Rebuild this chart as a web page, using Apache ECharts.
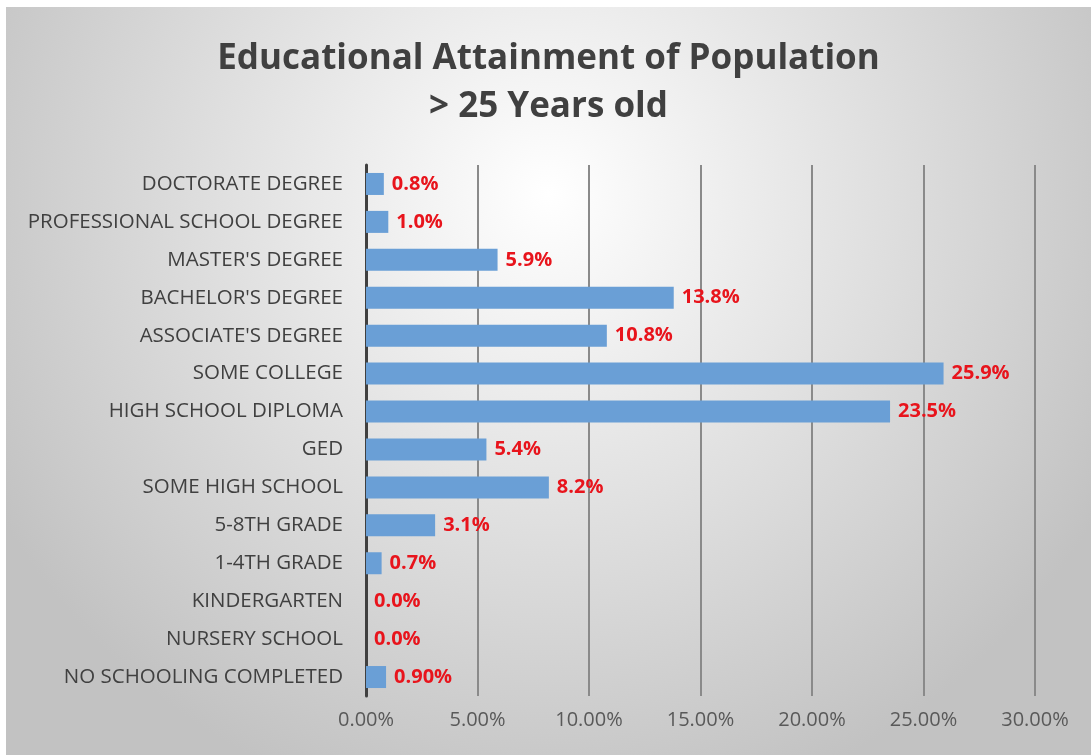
<!DOCTYPE html>
<html><head><meta charset="utf-8">
<script src="https://cdn.jsdelivr.net/npm/echarts@6/dist/echarts.min.js"></script>
<style>html,body{margin:0;padding:0;background:#fff;}#c{position:absolute;left:6px;top:7px;width:1085px;height:748px;}</style>
</head><body><div id="c"></div>
<script>
const categories = ["NO SCHOOLING COMPLETED","NURSERY SCHOOL","KINDERGARTEN","1-4TH GRADE","5-8TH GRADE","SOME HIGH SCHOOL","GED","HIGH SCHOOL DIPLOMA","SOME COLLEGE","ASSOCIATE'S DEGREE","BACHELOR'S DEGREE","MASTER'S DEGREE","PROFESSIONAL SCHOOL DEGREE","DOCTORATE DEGREE"];
const values = [0.9,0,0,0.7,3.1,8.2,5.4,23.5,25.9,10.8,13.8,5.9,1.0,0.8];
const valueLabels = ["0.90%","0.0%","0.0%","0.7%","3.1%","8.2%","5.4%","23.5%","25.9%","10.8%","13.8%","5.9%","1.0%","0.8%"];
const titleLines = ["Educational Attainment of Population", "> 25 Years old"];

const chart = echarts.init(document.getElementById('c'));
chart.setOption({
  backgroundColor: {type:'radial', x:0.5, y:0.25, r:0.85, colorStops:[{offset:0,color:'#ffffff'},{offset:1,color:'#c2c2c2'}]},
  title: {text: titleLines.join('\n'), left:'center', top:23,
    textStyle:{fontFamily:'Open Sans', fontWeight:'bold', fontSize:35, color:'#404040', lineHeight:48}},
  grid: {left:360, right:56, top:158, bottom:59, containLabel:false},
  xAxis: {type:'value', min:0, max:30, interval:5,
    axisLabel:{formatter: v => v.toFixed(2)+'%', fontFamily:'Open Sans', fontSize:20, color:'#595959', margin:14},
    axisLine:{show:false}, axisTick:{show:false},
    splitLine:{show:true, lineStyle:{color:'#8a8a8a', width:2}}},
  yAxis: {type:'category', data: categories,
    axisLabel:{fontFamily:'Open Sans', fontSize:20.5, color:'#404040', margin:23},
    axisLine:{show:true, lineStyle:{color:'#404040', width:3}}, axisTick:{show:false}},
  series: [{type:'bar', data: values, barWidth:22,
    itemStyle:{color:'#6a9fd6'},
    label:{show:true, position:'right', distance:8, formatter: p => valueLabels[p.dataIndex],
      fontFamily:'Open Sans', fontWeight:'bold', fontSize:20, color:'#e8141c'}}]
});
</script></body></html>
